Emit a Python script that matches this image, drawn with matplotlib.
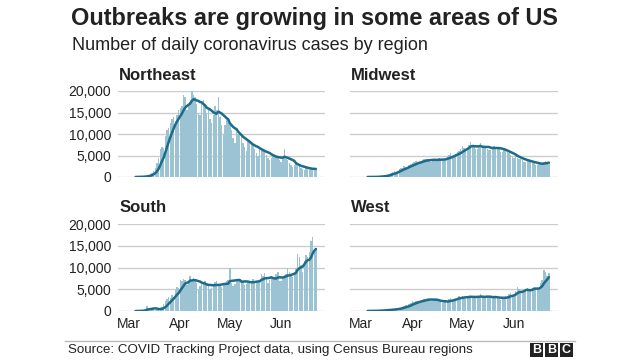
import numpy as np
import pandas as pd
import matplotlib
matplotlib.use("Agg")
import matplotlib.pyplot as plt
from matplotlib.patches import Rectangle
from matplotlib.lines import Line2D

plt.rcParams['font.family'] = ['Liberation Sans', 'DejaVu Sans']

start_date = "2020-03-05"

northeast = [10, 20, 40, 60, 100, 150, 250,
             350, 500, 700, 1000, 1500, 2200, 3200,
             4500, 6500, 7000, 6800, 9500, 11000, 11500,
             12500, 13500, 14000, 13000, 14500, 15500, 16000,
             16500, 19000, 18500, 15500, 16500, 17500, 20500,
             19000, 18500, 17000, 15000, 14500, 17000, 18000,
             16500, 15000, 15500, 13500, 12500, 14500, 16500,
             15500, 18500, 14000, 12000, 10000, 12000, 14000,
             13500, 12000, 11000, 9000, 8000, 10500, 10000,
             10500, 9500, 8000, 7000, 6000, 8500, 8000,
             8000, 7500, 6500, 5500, 5000, 6500, 6500,
             6500, 6000, 5200, 4500, 4000, 4500, 5000,
             5200, 4800, 4500, 4000, 3500, 4500, 6500,
             4200, 4000, 3300, 2800, 2400, 2800, 3000,
             2600, 2500, 2200, 1900, 1700, 2000, 2200,
             2000, 1900, 1800, 1600, 1700]

midwest = [5, 10, 15, 20, 40, 60, 100,
           150, 200, 250, 300, 400, 500, 700,
           900, 1200, 1300, 1100, 1500, 1800, 2000,
           2200, 2500, 2400, 2300, 2800, 3000, 3200,
           3400, 3700, 3600, 3300, 3500, 3900, 4100,
           4300, 4200, 3900, 3600, 3800, 4100, 4000,
           4200, 4500, 4000, 3700, 3900, 4500, 4800,
           5200, 5500, 5000, 4800, 5300, 5800, 6000,
           6500, 7200, 6800, 6500, 6800, 7500, 8200,
           7400, 7000, 6500, 6400, 7200, 7800, 7000,
           7200, 6800, 6600, 6200, 6300, 7000, 7300,
           7000, 6800, 6400, 5900, 5700, 6200, 6400,
           5800, 5500, 5200, 4600, 4400, 4800, 4500,
           4300, 4200, 3900, 3600, 3400, 3800, 3700,
           3500, 3400, 3200, 2900, 2800, 3100, 3000,
           3200, 3600, 3700, 3300, 3500]

south = [0, 10, 20, 50, 100, 200, 500,
         1200, 600, 400, 500, 700, 300, 200,
         400, 600, 900, 1500, 2200, 2800, 3200,
         3000, 3600, 3300, 4800, 5500, 5200, 7200,
         7000, 7400, 7100, 6000, 6400, 8000, 7200,
         7600, 7300, 6500, 5000, 5800, 6200, 6500,
         6800, 6000, 5700, 5000, 5400, 6100, 6600,
         7000, 6200, 5800, 5500, 6000, 6400, 6900,
         7200, 10000, 6500, 5800, 6300, 6900, 7100,
         7300, 7200, 6800, 6000, 6200, 6700, 6400,
         7000, 7300, 7000, 6500, 6600, 7000, 8600,
         8000, 8700, 7500, 6500, 7100, 7800, 7500,
         7300, 8600, 9000, 7000, 6800, 7700, 8200,
         8500, 9900, 9000, 8000, 7800, 8500, 10000,
         13000, 12500, 10500, 9000, 11500, 12800, 12500,
         13500, 16000, 17000, 13500, 14500]

west = [10, 20, 30, 40, 60, 80, 100,
        120, 150, 180, 200, 250, 300, 350,
        350, 400, 450, 500, 600, 700, 800,
        1000, 1200, 1300, 1200, 1500, 1800, 2200,
        2000, 2400, 2300, 2100, 2300, 2600, 2700,
        2800, 3000, 2700, 2400, 2200, 2500, 2800,
        2400, 2300, 2000, 1800, 2000, 2300, 2400,
        2800, 2900, 2600, 2500, 2800, 3100, 3500,
        3300, 3400, 3100, 2800, 3000, 3500, 3600,
        3400, 3300, 3000, 2900, 3200, 3800, 3500,
        3000, 3500, 3200, 2900, 3000, 3400, 3300,
        3200, 3100, 2800, 2600, 2900, 3300, 3400,
        3500, 3800, 4200, 3200, 3700, 4500, 5600,
        5000, 4600, 4200, 4400, 5100, 5300, 5000,
        4800, 5200, 5500, 5200, 5000, 5400, 6500,
        7200, 9500, 9000, 8000, 8800]

regions = ["Northeast", "Midwest", "South", "West"]
series = [northeast, midwest, south, west]
y_ticks = [0, 5000, 10000, 15000, 20000]
y_tick_labels = ["0", "5,000", "10,000", "15,000", "20,000"]
month_ticks = ["2020-03-01", "2020-04-01", "2020-05-01", "2020-06-01"]
month_labels = ["Mar", "Apr", "May", "Jun"]

W, H = 640, 360
fig = plt.figure(figsize=(6.4, 3.6), dpi=100)

def fx(px):
    return px / W

def fy(py):
    return 1 - py / H

bar_color = "#9cc3d3"
line_color = "#1d6b8b"
grid_color = "#cccccc"

positions = [(118, 91, 325, 177), (350, 91, 558, 177),
             (118, 224, 325, 311), (350, 224, 558, 311)]

x0 = pd.Timestamp("2020-03-01") - pd.Timedelta(days=6.6)
x1 = pd.Timestamp("2020-03-01") + pd.Timedelta(days=118.5)

for i, (name, vals) in enumerate(zip(regions, series)):
    l, t, r, b = positions[i]
    ax = fig.add_axes([fx(l), fy(b), fx(r - l), (b - t) / H])
    dates = pd.date_range(start_date, periods=len(vals))
    s = pd.Series(vals, index=dates)
    avg = s.rolling(7, min_periods=1).mean()
    ax.bar(dates, vals, width=0.85, color=bar_color, edgecolor="none",
           zorder=2)
    ax.plot(dates, avg.values, color=line_color, lw=1.8, zorder=3,
            solid_capstyle="round")
    ax.set_ylim(0, 20000)
    ax.set_xlim(x0, x1)
    ax.set_yticks(y_ticks)
    for yv in y_ticks:
        ax.axhline(yv, color=grid_color, lw=1.0, zorder=1)
    for sp in ax.spines.values():
        sp.set_visible(False)
    ax.tick_params(length=0, labelsize=10, colors="#222222")
    if i % 2 == 0:
        ax.set_yticklabels(y_tick_labels)
        ax.tick_params(axis="y", pad=5)
    else:
        ax.set_yticklabels([])
    if i >= 2:
        ax.set_xticks(pd.to_datetime(month_ticks))
        ax.set_xticklabels(month_labels)
        ax.tick_params(axis="x", pad=4)
    else:
        ax.set_xticks([])
    ax.set_facecolor("none")
    ax.text(0.005, 1.0 + 16 / (b - t), name, transform=ax.transAxes,
            fontsize=12, fontweight="bold", color="#222222",
            ha="left", va="center")

fig.text(fx(71), fy(18), "Outbreaks are growing in some areas of US",
         fontsize=16.9, fontweight="bold", color="#222222",
         ha="left", va="center")
fig.text(fx(72), fy(45), "Number of daily coronavirus cases by region",
         fontsize=13, color="#222222", ha="left", va="center")
fig.text(fx(68), fy(350),
         "Source: COVID Tracking Project data, using Census Bureau regions",
         fontsize=9.6, color="#222222", ha="left", va="center")
fig.add_artist(Line2D([fx(65), fx(575)], [fy(341), fy(341)],
                      color="#bbbbbb", lw=1.0))

# BBC logo
for k, letter in enumerate("BBC"):
    lx = 530 + k * 15
    fig.add_artist(Rectangle((fx(lx), fy(357)), fx(13), 14 / H,
                             facecolor="#222222", edgecolor="none"))
    fig.text(fx(lx + 6.5), fy(350), letter, fontsize=9, fontweight="bold",
             color="white", ha="center", va="center")

fig.savefig("out.png", dpi=100, facecolor="white")
